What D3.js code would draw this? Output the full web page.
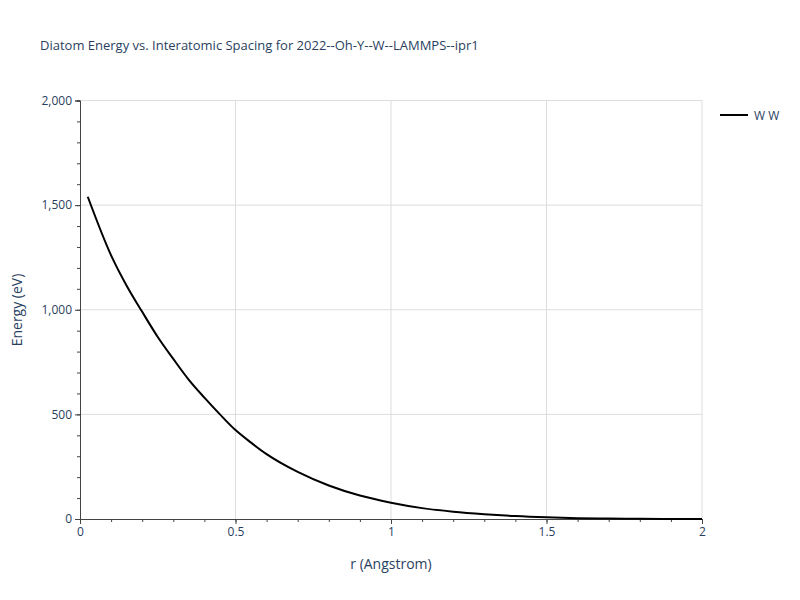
<!DOCTYPE html>
<html><head><meta charset="utf-8">
<script src="https://cdn.jsdelivr.net/npm/d3@7"></script>
<style>body{margin:0;background:#fff}text{font-family:"Open Sans",sans-serif}</style>
</head><body><svg id="c" width="800" height="600"></svg>
<script>
const rVals=[0.025,0.1,0.15,0.2,0.25,0.3,0.35,0.4,0.45,0.5,0.55,0.6,0.7,0.8,0.9,1.0,1.1,1.2,1.3,1.4,1.5,1.6,1.7,1.8,1.9,2.0];
const energy=[1540,1260,1115,990,870,765,665,580,500,425,365,310,225,160,112,78,52,35,23,14,8,4,2,1,0,0];
const xTicks=[0,0.5,1,1.5,2];
const yTicks=[0,500,1000,1500,2000];
const svg=d3.select("#c");
const L=80,R=702,T=100,B=519;
const x=d3.scaleLinear().domain([0,2]).range([L,R]);
const y=d3.scaleLinear().domain([0,2000]).range([B,T+0.5]);
const g=svg.append("g");
g.selectAll(".gx").data(xTicks.slice(1)).join("line").attr("x1",d=>x(d)).attr("x2",d=>x(d)).attr("y1",T).attr("y2",B).attr("stroke","#ddd");
g.selectAll(".gy").data(yTicks.slice(1)).join("line").attr("y1",d=>y(d)).attr("y2",d=>y(d)).attr("x1",L).attr("x2",R).attr("stroke","#ddd");
const xa=svg.append("g").attr("transform",`translate(0,${B})`).call(d3.axisBottom(x).tickValues(xTicks).tickFormat(d3.format("")).tickSize(5));
svg.append("g").attr("transform",`translate(0,${B})`).call(d3.axisBottom(x).ticks(20).tickFormat("").tickSize(3));
const ya=svg.append("g").attr("transform",`translate(${L},0)`).call(d3.axisLeft(y).tickValues(yTicks).tickSize(5));
svg.append("g").attr("transform",`translate(${L},0)`).call(d3.axisLeft(y).ticks(20).tickFormat("").tickSize(3));
svg.selectAll(".domain,.tick line").attr("stroke","#444");
svg.selectAll(".tick text").attr("fill","#2a3f5f").style("font-size","12px").style("font-family","Open Sans");
svg.append("path").datum(rVals.map((r,i)=>[r,energy[i]])).attr("fill","none").attr("stroke","#000").attr("stroke-width",2)
 .attr("d",d3.line().x(d=>x(d[0])).y(d=>y(d[1])).curve(d3.curveMonotoneX));
svg.append("text").attr("x",40).attr("y",50).attr("fill","#2a3f5f").style("font-size","13px").text("Diatom Energy vs. Interatomic Spacing for 2022--Oh-Y--W--LAMMPS--ipr1");
svg.append("text").attr("x",391).attr("y",569).attr("text-anchor","middle").attr("fill","#2a3f5f").style("font-size","14px").text("r (Angstrom)");
svg.append("text").attr("transform","translate(22,310) rotate(-90)").attr("text-anchor","middle").attr("fill","#2a3f5f").style("font-size","14px").text("Energy (eV)");
svg.append("line").attr("x1",720).attr("x2",748).attr("y1",115).attr("y2",115).attr("stroke","#000").attr("stroke-width",2);
svg.append("text").attr("x",754).attr("y",119.5).attr("fill","#2a3f5f").style("font-size","12px").text("W W");
</script></body></html>
